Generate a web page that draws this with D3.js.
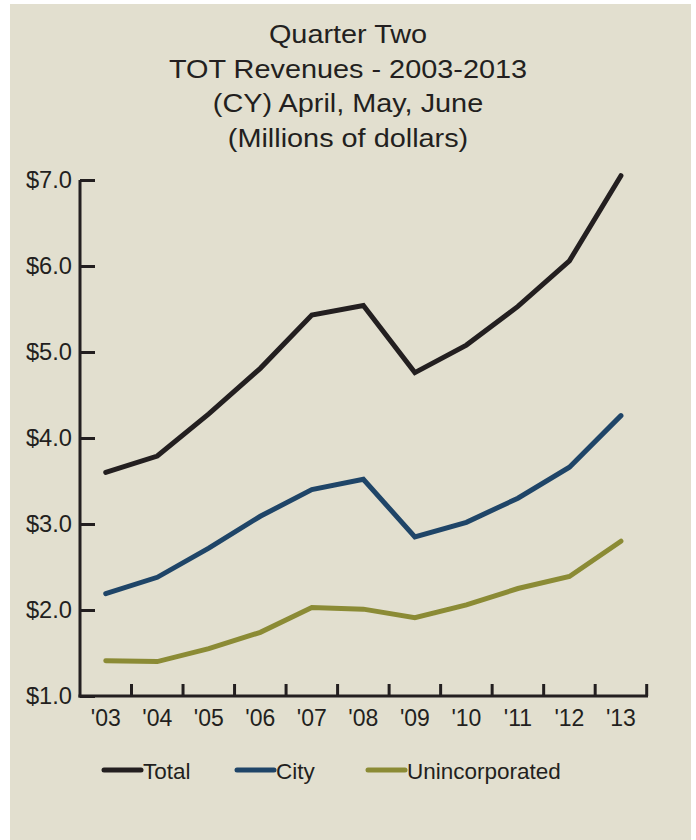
<!DOCTYPE html>
<html>
<head>
<meta charset="utf-8">
<script src="https://cdn.jsdelivr.net/npm/d3@7"></script>
<style>
  body { margin: 0; background: #fff; }
  svg text { font-family: "Liberation Sans", Arial, sans-serif; fill: #231f20; }
</style>
</head>
<body>
<div id="chart-area"></div>
<script>
// Q2 TOT revenues, millions of dollars
var years = ["'03", "'04", "'05", "'06", "'07", "'08", "'09", "'10", "'11", "'12", "'13"];
var total = [3.60, 3.79, 4.28, 4.81, 5.43, 5.54, 4.76, 5.08, 5.53, 6.06, 7.05];
var city = [2.19, 2.38, 2.72, 3.09, 3.40, 3.52, 2.85, 3.02, 3.30, 3.66, 4.26];
var unincorporated = [1.41, 1.40, 1.55, 1.74, 2.03, 2.01, 1.91, 2.06, 2.25, 2.39, 2.80];
var yTicks = [1, 2, 3, 4, 5, 6, 7];
var titleLines = ["Quarter Two", "TOT Revenues - 2003-2013", "(CY) April, May, June", "(Millions of dollars)"];

var series = [
  { name: "Total", values: total, color: "#231f20" },
  { name: "City", values: city, color: "#1f4568" },
  { name: "Unincorporated", values: unincorporated, color: "#8b8b35" }
];

var svg = d3.select("#chart-area").append("svg")
  .attr("width", 696)
  .attr("height", 840);

// panel
svg.append("rect")
  .attr("x", 10)
  .attr("y", 4)
  .attr("width", 681)
  .attr("height", 836)
  .attr("fill", "#e2dfcf");

// title (the original type is a bit wider than Liberation Sans)
svg.append("g").selectAll("text")
  .data(titleLines)
  .enter()
  .append("text")
  .attr("transform", function(d, i) { return "translate(348," + (43 + i * 34.7) + ") scale(1.11,1)"; })
  .attr("text-anchor", "middle")
  .attr("font-size", 26)
  .text(function(d) { return d; });

var x = d3.scaleBand()
  .domain(years)
  .range([80, 646.7]);

var y = d3.scaleLinear()
  .domain([1, 7])
  .range([696, 180]);

// y axis, ticks point inward
var yAxis = d3.axisRight(y)
  .tickValues(yTicks)
  .tickSize(15)
  .tickFormat(function(d) { return ""; });

var gy = svg.append("g")
  .attr("transform", "translate(80,0)")
  .call(yAxis);
gy.select(".domain").remove();
gy.append("line")
  .attr("x1", 0).attr("x2", 0)
  .attr("y1", 180).attr("y2", 697.5);
gy.selectAll("line")
  .attr("stroke", "#231f20")
  .attr("stroke-width", 3);

svg.append("g").selectAll("text")
  .data(yTicks)
  .enter()
  .append("text")
  .attr("transform", function(d) { return "translate(72," + (y(d) + 8) + ") scale(1.03,1)"; })
  .attr("text-anchor", "end")
  .attr("font-size", 23)
  .text(function(d) { return "$" + d.toFixed(1); });

// x axis with ticks at band edges
var gx = svg.append("g");
gx.append("line")
  .attr("x1", 78.5).attr("x2", 648)
  .attr("y1", y(1)).attr("y2", y(1));
gx.selectAll(".tick")
  .data(years.slice(1).concat(["end"]))
  .enter()
  .append("line")
  .attr("class", "tick")
  .attr("x1", function(d, i) { return x(years[i]) + x.bandwidth(); })
  .attr("x2", function(d, i) { return x(years[i]) + x.bandwidth(); })
  .attr("y1", y(1))
  .attr("y2", y(1) - 12);
gx.selectAll("line")
  .attr("stroke", "#231f20")
  .attr("stroke-width", 3);

svg.append("g").selectAll("text")
  .data(years)
  .enter()
  .append("text")
  .attr("x", function(d) { return x(d) + x.bandwidth() / 2; })
  .attr("y", 726)
  .attr("text-anchor", "middle")
  .attr("font-size", 23)
  .text(function(d) { return d; });

// lines
var line = d3.line()
  .x(function(d, i) { return x(years[i]) + x.bandwidth() / 2; })
  .y(function(d) { return y(d); });

svg.append("g").selectAll("path")
  .data(series)
  .enter()
  .append("path")
  .attr("d", function(d) { return line(d.values); })
  .attr("fill", "none")
  .attr("stroke", function(d) { return d.color; })
  .attr("stroke-width", 5)
  .attr("stroke-linecap", "round")
  .attr("stroke-linejoin", "miter");

// legend
var legendX = [104, 237, 368];
var legend = svg.append("g").selectAll("g")
  .data(series)
  .enter()
  .append("g")
  .attr("transform", function(d, i) { return "translate(" + legendX[i] + ",770)"; });

legend.append("line")
  .attr("x1", 0).attr("x2", 37)
  .attr("y1", 0).attr("y2", 0)
  .attr("stroke", function(d) { return d.color; })
  .attr("stroke-width", 5)
  .attr("stroke-linecap", "round");

legend.append("text")
  .attr("x", 39)
  .attr("y", 8.5)
  .attr("font-size", 22.5)
  .text(function(d) { return d.name; });
</script>
</body>
</html>
